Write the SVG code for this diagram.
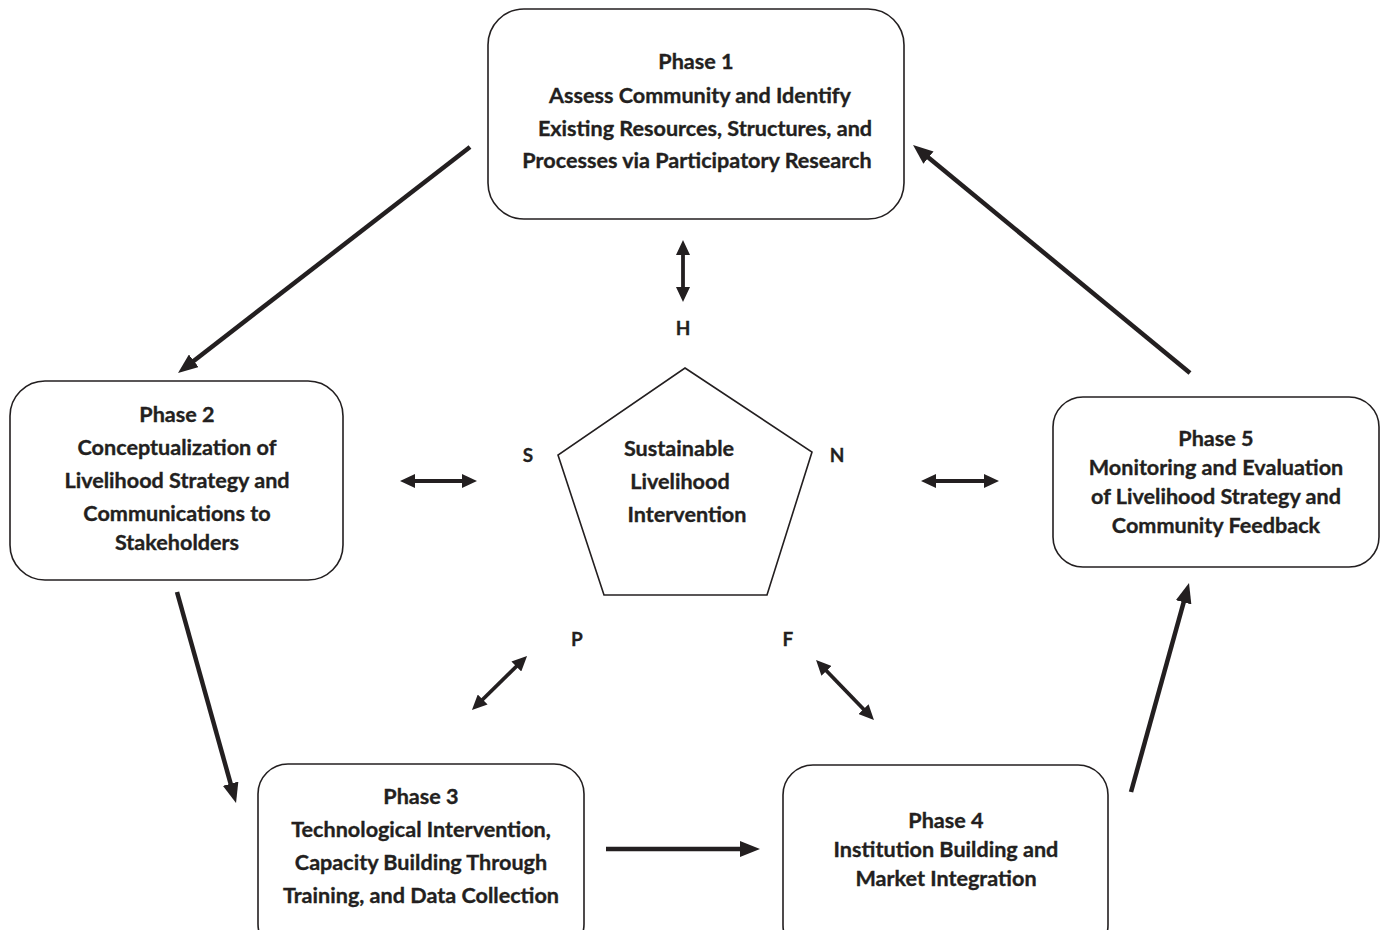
<svg xmlns="http://www.w3.org/2000/svg" width="1381" height="930" viewBox="0 0 1381 930">
<style>
.box{fill:#fff;stroke:#231f20;stroke-width:1.6}
.t{font-family:Lato,"Open Sans",sans-serif;font-weight:bold;font-size:21.6px;fill:#231f20;stroke:#231f20;stroke-width:0.35;text-anchor:middle}
.lbl{font-family:Lato,"Open Sans",sans-serif;font-weight:bold;font-size:19px;fill:#231f20;stroke:#231f20;stroke-width:0.3;text-anchor:middle}
.a{stroke:#231f20;stroke-width:4.5;fill:none;marker-end:url(#ah)}
.d{stroke:#231f20;stroke-width:3.8;fill:none;marker-start:url(#dh);marker-end:url(#dh)}
</style>
<defs>
<marker id="ah" markerUnits="userSpaceOnUse" markerWidth="20" markerHeight="16" refX="8" refY="8" orient="auto"><path d="M0,0 L20,8 L0,16 z" fill="#231f20"/></marker>
<marker id="dh" markerUnits="userSpaceOnUse" markerWidth="15" markerHeight="14" refX="5" refY="7" orient="auto-start-reverse"><path d="M0,0 L15,7 L0,14 z" fill="#231f20"/></marker>
</defs>
<rect width="1381" height="930" fill="#fff"/>
<g id="connectors">
<line class="a" x1="470" y1="147" x2="187.5" y2="365.7"/>
<line class="a" x1="1190" y1="373" x2="922.3" y2="152.6"/>
<line class="a" x1="177" y1="592" x2="232.8" y2="791.4"/>
<line class="a" x1="606" y1="849" x2="748" y2="849"/>
<line class="a" x1="1131" y1="792" x2="1185.8" y2="594.6"/>
<line class="d" x1="683" y1="250" x2="683" y2="292"/>
<line class="d" x1="410" y1="481" x2="467" y2="481"/>
<line class="d" x1="931" y1="481" x2="989" y2="481"/>
<line class="d" x1="479.1" y1="703" x2="519.9" y2="663"/>
<line class="d" x1="823" y1="667.2" x2="867" y2="712.8"/>
</g>
<g id="phase1">
<rect class="box" x="488" y="9" width="416" height="210" rx="36"/>
<text class="t" x="696" y="69">Phase 1</text>
<text class="t" x="700" y="103">Assess Community and Identify</text>
<text class="t" x="705" y="136">Existing Resources, Structures, and</text>
<text class="t" x="697" y="168">Processes via Participatory Research</text>
</g>
<g id="phase2">
<rect class="box" x="10" y="381" width="333" height="199" rx="35"/>
<text class="t" x="177" y="422">Phase 2</text>
<text class="t" x="177" y="455">Conceptualization of</text>
<text class="t" x="177" y="488">Livelihood Strategy and</text>
<text class="t" x="177" y="521">Communications to</text>
<text class="t" x="177" y="550">Stakeholders</text>
</g>
<g id="phase3">
<rect class="box" x="258" y="764" width="326" height="190" rx="30"/>
<text class="t" x="421" y="804">Phase 3</text>
<text class="t" x="421" y="837">Technological Intervention,</text>
<text class="t" x="421" y="870">Capacity Building Through</text>
<text class="t" x="421" y="903">Training, and Data Collection</text>
</g>
<g id="phase4">
<rect class="box" x="783" y="765" width="325" height="190" rx="30"/>
<text class="t" x="946" y="828">Phase 4</text>
<text class="t" x="946" y="857">Institution Building and</text>
<text class="t" x="946" y="886">Market Integration</text>
</g>
<g id="phase5">
<rect class="box" x="1053" y="397" width="326" height="170" rx="30"/>
<text class="t" x="1216" y="446">Phase 5</text>
<text class="t" x="1216" y="475">Monitoring and Evaluation</text>
<text class="t" x="1216" y="504">of Livelihood Strategy and</text>
<text class="t" x="1216" y="533">Community Feedback</text>
</g>
<g id="center">
<polygon points="685,368 812,452 767,595 604,595 558,455" fill="#fff" stroke="#231f20" stroke-width="1.6"/>
<text class="t" x="679" y="456">Sustainable</text>
<text class="t" x="680" y="489">Livelihood</text>
<text class="t" x="687" y="522">Intervention</text>
</g>
<g id="labels">
<text class="lbl" x="683" y="335">H</text>
<text class="lbl" x="528" y="462">S</text>
<text class="lbl" x="837" y="462">N</text>
<text class="lbl" x="577" y="646">P</text>
<text class="lbl" x="788" y="646">F</text>
</g>
</svg>
